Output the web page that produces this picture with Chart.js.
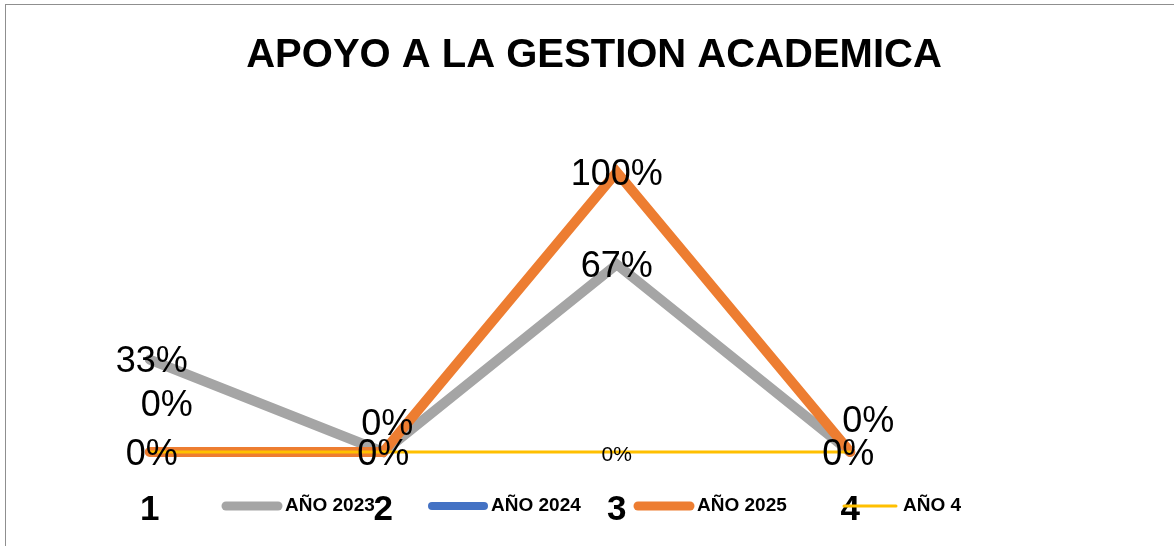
<!DOCTYPE html>
<html>
<head>
<meta charset="utf-8">
<script src="https://cdn.jsdelivr.net/npm/chart.js"></script>
<style>
  body { margin: 0; background: #fff; }
  #wrap { width: 1174px; height: 546px; }
</style>
</head>
<body>
<div id="wrap"><canvas id="chart"></canvas></div>
<script>
const categories = ['1', '2', '3', '4']
const ano2023 = [0.33, 0, 0.67, 0]
const ano2024 = [0, null, null, null]
const ano2025 = [0, 0, 1, 0]
const ano4 = [0, 0, 0, 0]
const seriesNames = ['AÑO 2023', 'AÑO 2024', 'AÑO 2025', 'AÑO 4']

const colors = ['#A5A5A5', '#4472C4', '#ED7D31', '#FFC000']
const widths = [10, 8, 10, 3]
const FONT = '"Liberation Sans", Arial, sans-serif'

// which point labels show, and how far they were dragged off the point
const labelStyles = [
    { size: 36, show: [1, 1, 1, 1], offsets: [[2, 2], [0, 3], [0, 3], [-2, 3]] },
    { size: 36, show: [1, 0, 0, 0], offsets: [[17, -46], [0, 0], [0, 0], [0, 0]] },
    { size: 36, show: [1, 1, 1, 1], offsets: [[2, 3], [4, -27], [0, 3], [18, -30]] },
    { size: 21, show: [0, 0, 1, 0], offsets: [[0, 0], [0, 0], [0, 3], [0, 0]] }
]

const pct = v => Math.round(v * 100) + '%'

const frame = {
    id: 'frame',
    beforeDraw(chart) {
        const ctx = chart.ctx
        ctx.save()
        ctx.strokeStyle = '#8f8f8f'
        ctx.lineWidth = 1
        ctx.strokeRect(5.5, 4.5, chart.width + 10, chart.height + 10)
        ctx.restore()
    }
}

const pointLabels = {
    id: 'pointLabels',
    afterDatasetsDraw(chart) {
        const ctx = chart.ctx
        ctx.save()
        ctx.fillStyle = '#000'
        ctx.textAlign = 'center'
        ctx.textBaseline = 'middle'
        chart.data.datasets.forEach((ds, i) => {
            const st = labelStyles[i]
            ctx.font = st.size + 'px ' + FONT
            chart.getDatasetMeta(i).data.forEach((pt, j) => {
                const v = ds.data[j]
                if (v === null || !st.show[j]) return
                ctx.fillText(pct(v), pt.x + st.offsets[j][0], pt.y + st.offsets[j][1])
            })
        })
        ctx.restore()
    }
}

// legend sits on the same row as the category labels
const inlineLegend = {
    id: 'inlineLegend',
    afterDraw(chart) {
        const ctx = chart.ctx
        ctx.save()
        ctx.font = 'bold 19px ' + FONT
        ctx.textBaseline = 'middle'
        ctx.fillStyle = '#000'
        ctx.lineCap = 'round'
        chart.data.datasets.forEach((ds, i) => {
            const x0 = 226 + i * 206
            const y = 506
            ctx.strokeStyle = ds.borderColor
            ctx.lineWidth = ds.borderWidth === 10 ? 9 : ds.borderWidth
            ctx.beginPath()
            ctx.moveTo(x0, y)
            ctx.lineTo(x0 + 52, y)
            ctx.stroke()
            ctx.fillText(ds.label, x0 + 59, y)
        })
        ctx.restore()
    }
}

const makeSet = (i, data) => ({
    label: seriesNames[i],
    data,
    borderColor: colors[i],
    backgroundColor: colors[i],
    borderWidth: widths[i],
    borderCapStyle: 'round',
    borderJoinStyle: 'miter',
    pointRadius: 0,
    pointHoverRadius: 0,
    tension: 0,
    clip: false,
    order: 4 - i
})

const data = {
    labels: categories,
    datasets: [
        makeSet(0, ano2023),
        makeSet(1, ano2024),
        makeSet(2, ano2025),
        makeSet(3, ano4)
    ]
}

const options = {
    responsive: true,
    maintainAspectRatio: false,
    animation: false,
    layout: { padding: { left: 14, right: 0, top: 0, bottom: 0 } },
    plugins: {
        legend: { display: false },
        tooltip: { enabled: false },
        title: {
            display: true,
            text: 'APOYO A LA GESTION ACADEMICA',
            color: '#000',
            font: { family: FONT, size: 40, weight: 'bold', lineHeight: 1.2 },
            padding: { top: 32, bottom: 92 }
        }
    },
    scales: {
        x: {
            offset: true,
            grid: { display: false, drawTicks: false },
            border: { display: false },
            ticks: {
                color: '#000',
                padding: 37,
                font: { family: FONT, size: 35, weight: 'bold', lineHeight: 1.2 }
            },
            afterFit: s => { s.height = 94 }
        },
        y: {
            min: 0,
            max: 1,
            grid: { display: false },
            border: { display: false },
            ticks: { display: false },
            afterFit: s => { s.width = 19 }
        },
        yEmpty: {
            position: 'right',
            grid: { display: false },
            border: { display: false },
            ticks: { display: false },
            afterFit: s => { s.width = 207 }
        }
    }
}

new Chart('chart', { type: 'line', data, options, plugins: [frame, pointLabels, inlineLegend] })
</script>
</body>
</html>
